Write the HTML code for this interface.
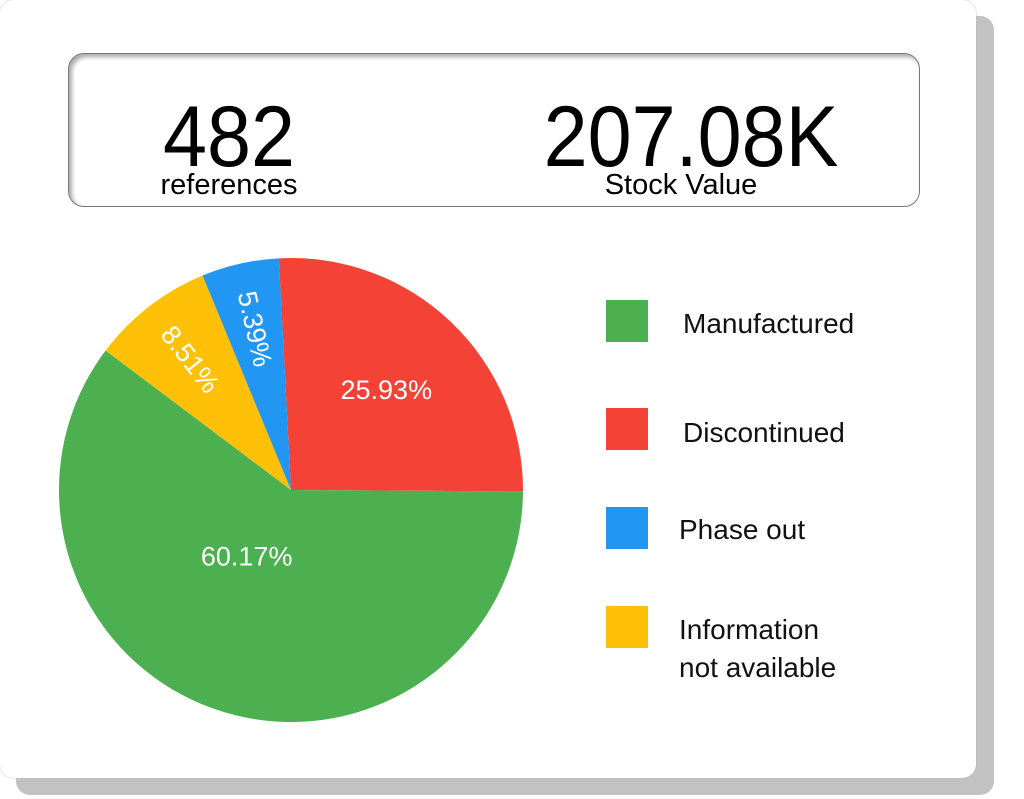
<!DOCTYPE html>
<html><head><meta charset="utf-8">
<style>
html,body{margin:0;padding:0;background:#fff;}
body{width:1024px;height:799px;position:relative;overflow:hidden;font-family:"Liberation Sans",sans-serif;}
#shadow{position:absolute;left:16px;top:16px;width:978px;height:779px;background:#c2c2c2;border-radius:14px;}
#card{position:absolute;left:0;top:0;width:976px;height:778px;background:#fff;border-radius:14px;box-shadow:0 0 2px #bbb;}
#kpi{position:absolute;left:68px;top:53px;width:850px;height:152px;border:1.5px solid #777;border-radius:16px;box-shadow:inset 3px 3px 4px #aaa;background:#fff;}
.big{position:absolute;font-size:86px;color:#000;line-height:1;transform:scaleX(0.92);}
.sub{position:absolute;font-size:29px;color:#000;line-height:1;}
.sw{position:absolute;width:42px;height:42px;}
.lg{position:absolute;font-size:28px;color:#111;line-height:38px;}
</style></head><body>
<div id="shadow"></div>
<div id="card">
 <div id="kpi">
  <div class="big" style="left:80px;top:40px;width:160px;text-align:center;">482</div>
  <div class="sub" style="left:60px;top:117px;width:200px;text-align:center;">references</div>
  <div class="big" style="left:432px;top:40px;width:380px;text-align:center;">207.08K</div>
  <div class="sub" style="left:512px;top:117px;width:200px;text-align:center;">Stock Value</div>
 </div>
 <svg id="pie" width="600" height="500" style="position:absolute;left:0;top:240px;"></svg>
 <div class="sw" style="left:606px;top:300px;background:#4caf50"></div>
 <div class="lg" style="left:683px;top:305px">Manufactured</div>
 <div class="sw" style="left:606px;top:408px;background:#f44336"></div>
 <div class="lg" style="left:683px;top:414px">Discontinued</div>
 <div class="sw" style="left:606px;top:507px;background:#2196f3"></div>
 <div class="lg" style="left:679px;top:511px">Phase out</div>
 <div class="sw" style="left:606px;top:606px;background:#ffc107"></div>
 <div class="lg" style="left:679px;top:611px">Information<br>not available</div>
</div>
<script>
const categories=["Discontinued","Manufactured","Information not available","Phase out"];
const values=[25.93,60.17,8.51,5.39];
const labels=["25.93%","60.17%","8.51%","5.39%"];
const colors=["#f44336","#4caf50","#ffc107","#2196f3"];
const svg=document.getElementById('pie');
const NS='http://www.w3.org/2000/svg';
const cx=291,cy=250,R=232,startDeg=-3;
const total=values.reduce((a,b)=>a+b,0);
function pt(deg,r){const a=deg*Math.PI/180;return [cx+r*Math.sin(a),cy-r*Math.cos(a)];}
let acc=startDeg;
values.forEach((v,i)=>{
 const sweep=v/total*360,a0=acc,a1=acc+sweep;acc=a1;
 const p0=pt(a0,R),p1=pt(a1,R);
 const path=document.createElementNS(NS,'path');
 path.setAttribute('d',`M${cx},${cy}L${p0[0]},${p0[1]}A${R},${R} 0 ${sweep>180?1:0} 1 ${p1[0]},${p1[1]}Z`);
 path.setAttribute('fill',colors[i]);
 
 
 svg.appendChild(path);
 const mid=(a0+a1)/2;
 const frac=v/total;
 const t=document.createElementNS(NS,'text');
 let lr, rot=0;
 if(frac<0.1){lr=165;rot=mid-270;}else if(frac>0.5){lr=80;}else{lr=138;}
 const lp=pt(frac>0.5?mid+15:mid,lr);
 t.setAttribute('x',lp[0]);t.setAttribute('y',lp[1]);
 t.setAttribute('text-anchor','middle');t.setAttribute('dominant-baseline','central');
 t.setAttribute('fill','#fff');t.setAttribute('font-size','27');
 t.setAttribute('font-family','Liberation Sans, sans-serif');
 if(rot)t.setAttribute('transform',`rotate(${rot} ${lp[0]} ${lp[1]})`);
 t.textContent=labels[i];
 
 
 svg.appendChild(t);
});
</script>
</body></html>
